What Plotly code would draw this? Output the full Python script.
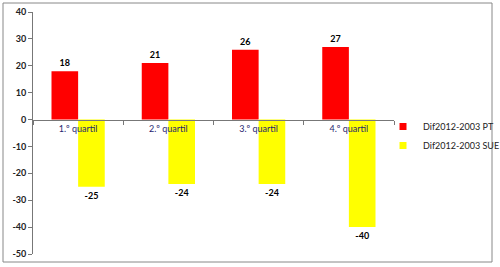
import plotly.graph_objects as go

categories = ["1.º quartil", "2.º quartil", "3.º quartil", "4.º quartil"]
pt_values = [18, 21, 26, 27]
sue_values = [-25, -24, -24, -40]
series_names = ["Dif2012-2003 PT", "Dif2012-2003 SUE"]
series_colors = ["#FF0000", "#FFFF00"]
y_ticks = [40, 30, 20, 10, 0, -10, -20, -30, -40, -50]

W, H = 500, 267
L, R, T, B = 33, 106, 12, 13
pw, ph = W - L - R, H - T - B

def px(x):
    return (x - L) / pw

def py(y):
    return (H - B - y) / ph

font = "Lato, 'Open Sans', sans-serif"

fig = go.Figure()
for vals, name, col in zip([pt_values, sue_values], series_names, series_colors):
    fig.add_trace(go.Bar(x=categories, y=vals, name=name,
                         marker=dict(color=col, line=dict(width=0)),
                         text=[str(v) for v in vals], textposition="outside",
                         textfont=dict(size=9, color="#000", family=font, weight="bold"),
                         cliponaxis=False, showlegend=False))
for name, col in zip(series_names, series_colors):
    fig.add_trace(go.Scatter(x=[None], y=[None], mode="markers", name=name,
                             marker=dict(symbol="square", size=7, color=col)))

fig.update_layout(
    width=W, height=H,
    margin=dict(l=L, r=R, t=T, b=B, autoexpand=False),
    paper_bgcolor="white", plot_bgcolor="white",
    barmode="group", bargap=0.41, bargroupgap=0,
    font=dict(family=font, size=9, color="#222"),
    showlegend=True,
    legend=dict(x=px(383), y=py(112), xanchor="left", yanchor="top",
                font=dict(size=9, color="#222", family=font),
                itemwidth=30, tracegroupgap=0, bgcolor="rgba(0,0,0,0)"),
    xaxis=dict(type="category", anchor="free", position=py(120),
               showline=True, linecolor="#777", linewidth=1,
               ticks="outside", tickson="boundaries", ticklen=4, tickcolor="#777",
               tickfont=dict(size=9, color="#1F1F6F", family=font),
               showgrid=False, zeroline=False, layer="above traces"),
    yaxis=dict(range=[-50, 40], tickvals=y_ticks, ticktext=[str(v) for v in y_ticks],
               showline=True, linecolor="#777",
               linewidth=1, ticks="outside", ticklen=4, tickcolor="#777",
               tickfont=dict(size=9, color="#222", family=font, weight="bold"),
               showgrid=False, zeroline=False),
    shapes=[dict(type="rect", xref="paper", yref="paper",
                 x0=px(3), x1=px(492), y0=py(262), y1=py(3),
                 line=dict(color="#888", width=1), fillcolor="rgba(0,0,0,0)",
                 layer="below")],
)

fig.write_html("out.html")
